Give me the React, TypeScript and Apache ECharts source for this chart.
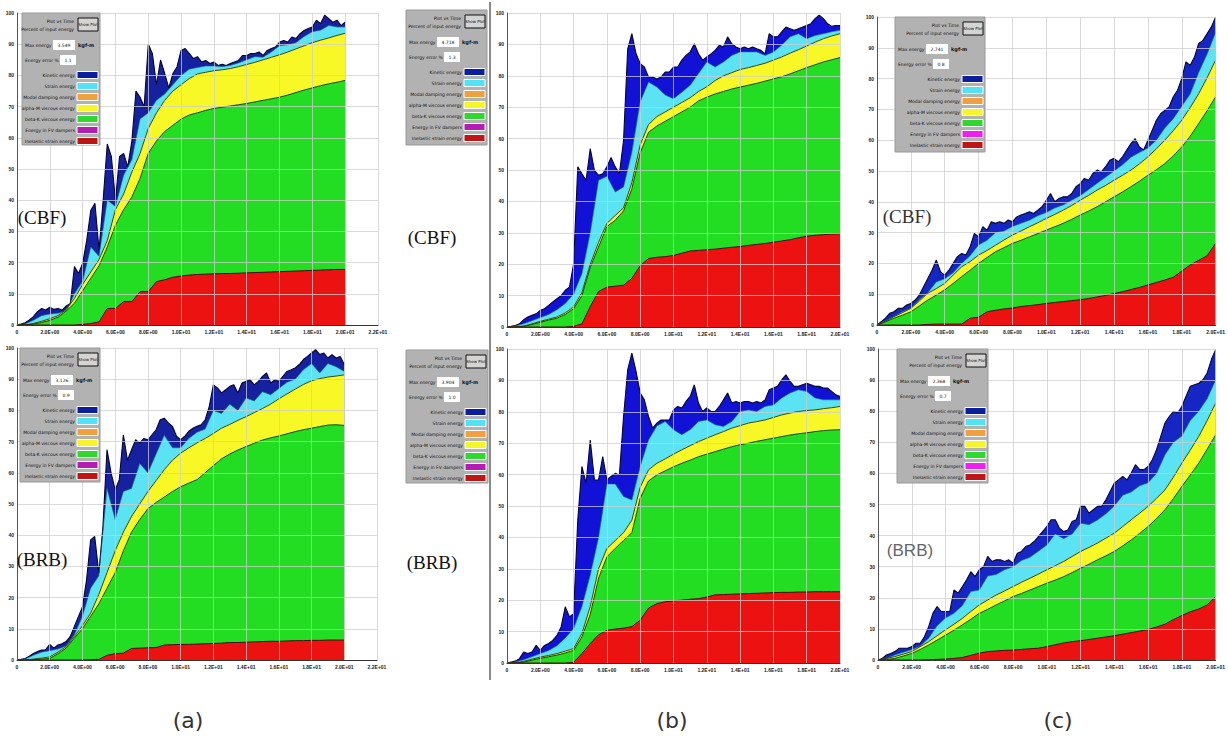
import React, { useEffect, useRef } from "react";
import * as echarts from "echarts";

// ---------- sampling times (s) ----------
const TIME_FINE = Array.from({ length: 81 }, (_, i) => i * 0.25);
const TIME_COARSE = Array.from({ length: 41 }, (_, i) => i * 0.5);

const Y_TICKS = [0, 10, 20, 30, 40, 50, 60, 70, 80, 90, 100];
const X_MAX = [22, 22, 20, 20, 20, 20];

const LEGEND_LABELS = [
  "Kinetic energy",
  "Strain energy",
  "Modal damping energy",
  "alpha-M viscous energy",
  "beta-K viscous energy",
  "Energy in FV dampers",
  "Inelastic strain energy",
];
const PANEL_TAGS = ["(CBF)", "(BRB)", "(CBF)", "(BRB)", "(CBF)", "(BRB)"];
const CAPTIONS = ["(a)", "(b)", "(c)"];
const MAX_ENERGY = ["3.549", "3.126", "4.718", "3.904", "2.741", "2.368"];
const ENERGY_ERROR = ["1.1", "0.9", "1.3", "1.0", "0.8", "0.7"];

// ---------- (a) CBF ----------
const aTopBlue = [0, 0.3, 0.7, 1.6, 2.7, 4.3, 5.3, 4.8, 5.7, 5.0, 5.3, 4.8, 6.1, 6.9, 18.7, 16.5, 19.7, 27.2, 36.8, 39, 24, 40, 58, 54, 40, 54, 55, 50.7, 59, 75, 73, 70, 90, 87, 77, 85, 80.6, 76, 80.6, 82.7, 88, 88.6, 87, 85.4, 86, 84.3, 84.8, 83.8, 84.3, 83.2, 83.6, 83.2, 83.8, 84.3, 84.8, 86.4, 86.4, 87, 87, 87.5, 86.4, 88, 88.6, 89.1, 90.7, 91.2, 90.7, 92.3, 91.8, 93.4, 94.4, 95, 95.5, 97.7, 96.6, 99.3, 98.2, 97, 97.7, 96, 97.1];
const aTopCyan = [0, 0.3, 1.5, 3, 3.5, 3.8, 4.5, 10, 14, 25, 22, 40, 38, 48, 53, 66, 68, 72, 74, 77, 80, 82, 82.5, 83, 83, 82.8, 83.2, 84, 85, 86, 85.8, 87.5, 89.5, 89.8, 90.5, 92.5, 94, 94.5, 96, 95.5, 95.5];
const aTopYellow = [0, 0, 0.5, 1.2, 2, 3, 5, 8.5, 13, 17, 21, 27, 37, 42, 49, 55, 63, 68, 72, 75, 77, 79, 80.5, 81, 81.5, 81.8, 82.2, 82.8, 83.5, 84.2, 85, 85.8, 86.6, 87.5, 88.5, 89.5, 90.5, 91.3, 92, 92.8, 93.5];
const aTopGreen = [0, 0, 0.3, 0.8, 1.5, 2.5, 4.5, 7, 11, 15, 19, 25, 32, 37, 41, 47, 55, 59, 62, 64, 66, 67.3, 68, 68.8, 69.4, 69.8, 70.2, 70.6, 71, 71.5, 72, 72.5, 73, 73.7, 74.5, 75.3, 76, 76.7, 77.3, 77.8, 78.4];
const aTopRed = [0, 0, 0, 0, 0, 0, 0, 0, 0.2, 0.5, 1, 5.3, 5.3, 7.5, 7.5, 10.7, 10.7, 13.9, 14.5, 15.3, 15.7, 16, 16.2, 16.3, 16.4, 16.5, 16.5, 16.6, 16.7, 16.8, 16.9, 17, 17.1, 17.2, 17.3, 17.4, 17.5, 17.6, 17.7, 17.8, 17.8];

// ---------- (a) BRB ----------
const aBotBlue = [0, 0.2, 0.5, 1.2, 2.1, 2.7, 3.2, 3.3, 5, 3.8, 4.8, 5.2, 5.9, 7.5, 10.7, 13.9, 17, 25.7, 38.5, 39.6, 27.8, 42.8, 67.4, 60, 54.5, 57.8, 72.2, 64, 67.4, 70.6, 69.5, 71, 70.6, 72.2, 73.8, 77, 77.5, 76, 74.9, 71.7, 70.6, 71.7, 73.3, 74.3, 74.9, 75.4, 77, 81.3, 88.2, 87.2, 85.6, 86.6, 87.7, 88.2, 85.6, 88.8, 89.3, 89.8, 88.2, 89.3, 90.9, 92, 88.8, 89.8, 89.3, 90.9, 92.5, 93, 93.6, 94.7, 96.3, 97.3, 98.4, 99.5, 97.9, 98.4, 96.8, 97.9, 96.8, 97.3, 94.7];
const aBotCyan = [0, 0.3, 1.5, 2.5, 3, 3.5, 4.5, 8, 14, 23, 27, 55, 45, 54, 55, 63, 60, 66, 72, 68, 68, 71, 73, 74, 80, 79, 82, 80, 84, 83, 86, 85, 87, 89, 90, 93, 95, 92, 95, 94, 92.5];
const aBotYellow = [0, 0, 0.3, 0.6, 1, 2.5, 4.3, 7.5, 11, 15, 21, 28, 35, 41, 46, 50, 54, 57.5, 61, 64, 66.3, 68, 69.6, 71, 72.6, 74.3, 75.5, 76.8, 78, 79.3, 80.6, 82, 83.7, 85.3, 86.8, 88.3, 89.5, 90.2, 90.7, 91, 91.4];
const aBotGreen = [0, 0, 0.1, 0.3, 0.5, 2, 3.8, 7, 10, 14, 18, 23, 28, 35, 41, 45, 48.5, 50.5, 52.2, 54, 55.5, 56.7, 57.8, 60, 62.3, 64.5, 66, 67.3, 68.4, 69.5, 70.5, 71.2, 71.8, 72.5, 73.2, 73.8, 74.3, 74.8, 75.3, 75.4, 75.2];
const aBotRed = [0, 0, 0, 0, 0, 0, 0, 0, 0, 0.1, 0.2, 1.5, 2, 2.2, 3.7, 3.8, 3.9, 4, 4.8, 4.9, 5, 5, 5.1, 5.2, 5.3, 5.4, 5.6, 5.6, 5.7, 5.8, 5.9, 6, 6, 6.1, 6.2, 6.2, 6.3, 6.3, 6.4, 6.4, 6.4];

// ---------- (b) CBF ----------
const bTopBlue = [0, 0.2, 0.5, 1, 2.3, 3.2, 3.7, 4.2, 5.3, 5.8, 6.9, 8, 9, 10, 11.7, 12.7, 20, 51, 48.8, 46.7, 56.8, 49.9, 48.3, 48.8, 51, 54, 51, 48.8, 59.4, 88.6, 93.4, 87, 83.9, 82.8, 79.6, 79.6, 79, 79.6, 81.2, 81.2, 82.8, 82.8, 85, 86.5, 87.6, 90.2, 87, 85, 86, 87, 88.1, 89.7, 89.2, 92.4, 90.2, 89.2, 88.6, 89.2, 88.6, 89.2, 88.6, 88.1, 87, 93.4, 92.4, 92.4, 94, 95.5, 95, 94.5, 95, 95.5, 96, 96.6, 98.2, 99.3, 98.2, 96.6, 95.8, 96, 96];
const bTopCyan = [0, 0.3, 1, 2, 3, 4, 5.5, 7.5, 10.5, 17, 30, 46.7, 48, 43, 44.6, 55.7, 71.7, 78, 76.4, 73.9, 72.7, 74.8, 77, 80.7, 84.4, 82.8, 84.4, 86.5, 87.6, 87.6, 87.6, 86.5, 87.6, 89.8, 92.4, 93.4, 91.8, 92.8, 93.4, 94, 94.5];
const bTopYellow = [0, 0, 0.3, 1, 1.8, 2.5, 3.2, 4.5, 6.4, 11, 20, 27, 33, 35.5, 38, 46, 58, 64.5, 67, 68.5, 70, 71.5, 73, 75, 76.5, 78.5, 80, 81, 82, 82.6, 83.3, 84, 85, 86, 87.2, 88.3, 89.5, 90.7, 91.8, 92.7, 93.4];
const bTopGreen = [0, 0, 0.2, 0.8, 1.5, 2.2, 2.8, 4, 5.8, 10, 19, 25.5, 32, 34, 37, 44, 55.5, 62, 64, 65.5, 67, 68.5, 70, 72, 73.2, 74.2, 75, 75.8, 76.4, 77, 77.6, 78.3, 79, 79.7, 80.6, 81.6, 82.6, 83.5, 84.4, 85.1, 85.8];
const bTopRed = [0, 0, 0, 0, 0, 0, 0, 0, 0.2, 1, 6.5, 11.3, 12.7, 13, 13.3, 15.5, 19.5, 21.8, 22.2, 22.4, 22.8, 23.5, 24.2, 24.4, 24.6, 24.8, 25.1, 25.4, 25.6, 26, 26.3, 26.6, 27, 27.4, 27.8, 28.4, 28.9, 29.2, 29.4, 29.6, 29.7];

// ---------- (b) BRB ----------
const bBotBlue = [0, 0.3, 0.6, 1.4, 3.5, 3, 3.5, 5.6, 4, 5.6, 6.2, 7.2, 8.8, 11.5, 17.9, 14.7, 15.7, 45.5, 62.6, 57.2, 71, 58.3, 58.3, 65.7, 58.3, 59.4, 60.4, 59.9, 78.5, 93.4, 98.7, 92.9, 86, 83.8, 78.5, 74.8, 76.4, 77.4, 77.4, 77.4, 80.6, 81.7, 81.2, 83.3, 84.9, 88.6, 82.8, 80.1, 81.2, 80.1, 80.1, 81.7, 83.8, 86, 82.8, 83.3, 82.8, 83.3, 83.3, 82.8, 83.3, 82.8, 83.8, 87, 87.6, 88.1, 90.2, 91.8, 89.7, 88.1, 88.1, 88.6, 89.1, 88.6, 88.1, 88.1, 87.6, 87.6, 86.5, 85.4, 84.9];
const bBotCyan = [0, 0.3, 1, 2, 3, 4, 5.5, 8, 11, 18, 28, 40, 57, 57, 53, 51.9, 62.6, 71, 75.5, 76.9, 74.3, 72.7, 74.3, 76.9, 77.4, 75.9, 75.3, 76.9, 80.1, 80.6, 80.1, 81.7, 82.2, 84.4, 86, 87, 86.5, 84.4, 83.8, 83.8, 83.8];
const bBotYellow = [0, 0, 0.5, 1.2, 1.9, 2.4, 3, 3.8, 4.6, 9.4, 18, 30, 36.5, 39, 41.5, 45.5, 56, 61.5, 63.6, 65, 66.5, 67.9, 69.2, 70.5, 71.6, 72.7, 73.7, 74.8, 75.6, 76.4, 76.9, 77.4, 78.2, 79, 79.6, 80.1, 80.4, 80.6, 81, 81.3, 81.7];
const bBotGreen = [0, 0, 0.3, 0.9, 1.5, 2, 2.5, 3.2, 4, 8.3, 15.5, 27, 33.8, 36.5, 39, 41.5, 52.5, 58, 59.9, 61.2, 62.5, 63.6, 64.6, 65.7, 66.5, 67.3, 68.1, 68.9, 69.5, 70, 70.6, 71.1, 71.6, 72.1, 72.6, 73, 73.3, 73.7, 74, 74.2, 74.3];
const bBotRed = [0, 0, 0, 0, 0, 0, 0, 0, 0.2, 3, 6.2, 9, 10.4, 10.8, 11.1, 11.6, 13.6, 17.5, 18.9, 19.5, 19.8, 20, 20.3, 20.5, 21, 21.7, 21.8, 21.9, 22, 22.1, 22.2, 22.3, 22.4, 22.5, 22.5, 22.6, 22.6, 22.7, 22.7, 22.7, 22.7];

// ---------- (c) CBF ----------
const cTopBlue = [0, 1.1, 2.2, 3.8, 4.3, 5.4, 5.4, 6.5, 7, 8.1, 9.7, 12.4, 15.1, 17.8, 21.1, 17.3, 16.2, 17.8, 20, 22.2, 23.2, 22.7, 25.4, 29.7, 28.6, 31.9, 30.8, 33.5, 33, 33.5, 33, 34.1, 33.5, 35.1, 35.7, 36.2, 36.8, 36.2, 37.3, 38.4, 40.5, 42.7, 40, 41.1, 41.6, 41.6, 42.7, 44.9, 45.9, 47.6, 47, 49.2, 50.3, 49.7, 51.4, 53.5, 54.1, 53, 54.6, 56.8, 58.9, 60.5, 57.8, 56.8, 60, 63.2, 66.5, 68.6, 69.7, 70.8, 74.1, 76.2, 80, 85.4, 84.3, 87, 91.4, 92.4, 94.6, 96.8, 100];
const cTopCyan = [0, 1.3, 2.8, 4.3, 5.5, 8.2, 10.5, 14, 15, 17, 20, 22.5, 26, 27.5, 30, 30.5, 32, 33, 34, 35.5, 36.5, 38, 39, 40.5, 42, 44, 46, 48, 50, 52, 54.5, 56, 57.5, 60, 64, 67, 71, 75, 82, 88, 95];
const cTopYellow = [0, 1.2, 2.7, 4, 5.4, 7.8, 10.3, 11.8, 13.5, 16.2, 18.9, 20.6, 22.7, 24.2, 25.9, 27.6, 29.2, 30.5, 31.9, 33.2, 34.6, 35.9, 37.3, 38.8, 40.5, 42.1, 43.8, 45.3, 47, 48.6, 50.3, 52.3, 54.6, 57.2, 60, 63.1, 66.5, 70.6, 75.1, 80.3, 86];
const cTopGreen = [0, 1, 2.2, 3.2, 4.3, 6.2, 8.1, 9.7, 11.4, 13.5, 15.7, 17.8, 20, 21.9, 23.8, 25.1, 26.5, 27.5, 28.6, 29.7, 30.8, 31.9, 33, 34.3, 35.7, 37, 38.4, 40, 41.6, 43.2, 44.9, 46.7, 48.6, 50.4, 52.4, 54.9, 57.8, 61.3, 65.4, 69.6, 74.1];
const cTopRed = [0, 0, 0, 0, 0, 0, 0.2, 0.3, 0.3, 0.3, 0.3, 2.2, 2.5, 4.3, 4.8, 5.2, 5.5, 6, 6.3, 6.6, 7, 7.3, 7.6, 7.9, 8.2, 8.6, 9.1, 9.6, 10.2, 10.8, 11.5, 12.2, 13, 13.8, 14.6, 15.5, 17.5, 19.5, 21, 22.5, 26.5];

// ---------- (c) BRB ----------
const cBotBlue = [0, 0.5, 1.6, 2.1, 2.7, 3.8, 3.8, 3.8, 4.3, 5.4, 5.4, 7.5, 10.7, 15, 17.2, 15.6, 15.6, 15.6, 22.5, 21.5, 23.6, 25.8, 28.4, 26.8, 29, 30, 33.3, 31.7, 32.2, 32.2, 31.7, 32.2, 31.1, 34.3, 34.9, 36.5, 37, 38.1, 39.7, 41.3, 42.9, 45.1, 45.1, 42.4, 41.3, 41.8, 44.5, 45.1, 49.4, 49.4, 47.2, 48.3, 49.4, 49.4, 51.5, 54.2, 56.9, 57.9, 59, 57.9, 60.1, 62.8, 61.2, 61.2, 62.2, 64.4, 67.6, 71.9, 76.2, 78.3, 79.9, 79.4, 81.5, 84.8, 88, 88.5, 89, 90.1, 92.3, 96.6, 99.8];
const cBotCyan = [0, 0.5, 1.6, 2.5, 3.3, 4.5, 7, 11, 13.5, 15, 17.5, 22, 22.5, 27, 27.5, 29, 30, 32, 33, 35, 37, 40.5, 39, 40.5, 44, 43.5, 45, 47, 49.5, 53, 54, 56, 57, 60, 66, 70, 72, 77, 80, 84, 90];
const cBotYellow = [0, 0.5, 1.1, 1.9, 2.7, 4.3, 5.9, 7.8, 9.7, 11.5, 13.4, 15.6, 17.7, 19.3, 20.9, 22.2, 23.6, 25, 26.3, 27.6, 29, 30.3, 31.7, 33.3, 34.9, 36.2, 37.6, 39.2, 40.8, 42.9, 45.1, 47.2, 49.4, 52, 54.7, 58.8, 63.3, 67.5, 71.9, 77, 82.6];
const cBotGreen = [0, 0.2, 0.5, 1.3, 2.1, 3.4, 4.8, 6.4, 8, 9.6, 11.3, 13.1, 15, 16.3, 17.7, 19, 20.4, 21.4, 22.5, 23.6, 24.7, 25.7, 26.8, 28.1, 29.5, 30.8, 32.2, 33.5, 34.9, 36.7, 38.6, 40.7, 42.9, 45.5, 48.3, 51.9, 55.8, 59.5, 63.3, 67.8, 72.4];
const cBotRed = [0, 0, 0, 0, 0, 0, 0.1, 0.2, 0.3, 0.5, 0.8, 1.5, 2.2, 2.7, 2.9, 3.1, 3.2, 3.4, 3.6, 3.8, 4.3, 4.9, 5.5, 5.9, 6.2, 6.6, 7, 7.4, 7.8, 8.3, 8.8, 9.3, 9.8, 10.6, 11.5, 13, 14.3, 15.5, 16.4, 17.7, 20.4];

const PANEL_DATA = [
  [aTopBlue, aTopCyan, aTopYellow, aTopGreen, aTopRed],
  [aBotBlue, aBotCyan, aBotYellow, aBotGreen, aBotRed],
  [bTopBlue, bTopCyan, bTopYellow, bTopGreen, bTopRed],
  [bBotBlue, bBotCyan, bBotYellow, bBotGreen, bBotRed],
  [cTopBlue, cTopCyan, cTopYellow, cTopGreen, cTopRed],
  [cBotBlue, cBotCyan, cBotYellow, cBotGreen, cBotRed],
];

// ---------- layout & styles ----------
const GRIDS = [
  { left: 17, top: 13, width: 361, height: 312 },
  { left: 17, top: 348, width: 360, height: 312 },
  { left: 507, top: 13, width: 333, height: 314 },
  { left: 507, top: 349, width: 333, height: 314 },
  { left: 877, top: 17, width: 341, height: 308 },
  { left: 878, top: 349, width: 340, height: 311 },
];
const BLUE_FILL = ["#16219f", "#16219f", "#1212d6", "#1212d6", "#1626c4", "#1626c4"];
const CYAN_FILL = "#5be3f3";
const YELLOW_FILL = "#f8f826";
const GREEN_FILL = "#22dd22";
const RED_FILL = "#ec1212";
const LINE_COLORS = ["#05052e", "#1d6f80", "#3a4a10", "#0e4a0e", "#4a0a0a"];
const LINE_WIDTHS = [1.1, 0.6, 1, 1, 1];

const LEGEND_BOXES = [
  [22, 13, 78, 132],
  [20, 348, 80, 134],
  [406, 10, 81, 135],
  [406, 350, 82, 133],
  [895, 17, 90, 135],
  [897, 349, 91, 134],
];
const SWATCH_COLORS = ["#0b1e9e", "#4fe3f5", "#f0a040", "#f5f52a", "#2fd82f", "#b41cb4", "#c01515"];
const TAG_POS = [
  [42, 217, "Liberation Serif", "#111"],
  [42, 559, "Liberation Serif", "#111"],
  [432, 237, "Liberation Serif", "#111"],
  [432, 562, "Liberation Serif", "#111"],
  [907, 216, "Liberation Serif", "#333"],
  [910, 550, "Liberation Sans", "#666"],
];
const CAPTION_X = [188, 672, 1058];

function sciLabel(v: number): string {
  if (v === 0) return "0";
  const e = Math.floor(Math.log10(v) + 1e-9);
  const m = v / Math.pow(10, e);
  return m.toFixed(1) + "E+" + (e < 10 ? "0" : "") + e;
}

function zip(times: number[], vals: number[]) {
  const n = Math.min(times.length, vals.length);
  const out: number[][] = [];
  for (let i = 0; i < n; i++) out.push([times[i], vals[i]]);
  return out;
}

function txt(x: number, y: number, text: string, size: number, o: any = {}) {
  const align = o.align || "left";
  return {
    type: "text",
    x,
    y,
    z: 100,
    style: {
      text,
      fontSize: size,
      fontFamily: o.family || "DejaVu Sans",
      fontWeight: o.weight || "normal",
      fill: o.fill || "#111",
      align,
      textAlign: align,
      verticalAlign: "middle",
      textVerticalAlign: "middle",
    },
  };
}

function rect(x: number, y: number, w: number, h: number, fill: string, stroke?: string, lw = 1) {
  return {
    type: "rect",
    z: 100,
    shape: { x, y, width: w, height: h },
    style: { fill, stroke: stroke || "none", lineWidth: lw },
  };
}

function legendBox(idx: number) {
  const [x0, y0, w, h] = LEGEND_BOXES[idx];
  const els: any[] = [];
  els.push(rect(x0, y0, w, h, "#b2b2b2", "#999"));
  els.push(txt(x0 + w - 26, y0 + 8, "Plot vs Time", 4.5, { align: "right" }));
  els.push(txt(x0 + w - 26, y0 + 16, "Percent of input energy", 4.5, { align: "right" }));
  els.push(rect(x0 + w - 22, y0 + 5, 20, 13, "#d4d4d4", "#111", 1));
  els.push(txt(x0 + w - 12, y0 + 11.5, "Show Plot", 4, { align: "center" }));
  els.push(txt(x0 + 3, y0 + 32, "Max energy =", 4.5));
  els.push(rect(x0 + 31, y0 + 27, 22, 10, "#ffffff"));
  els.push(txt(x0 + 42, y0 + 32, MAX_ENERGY[idx], 4.5, { align: "center" }));
  els.push(txt(x0 + 56, y0 + 32, "kgf-m", 5, { weight: "bold" }));
  els.push(txt(x0 + 3, y0 + 47, "Energy error % =", 4.5));
  els.push(rect(x0 + 38, y0 + 42, 16, 10, "#ffffff"));
  els.push(txt(x0 + 46, y0 + 47, ENERGY_ERROR[idx], 4.5, { align: "center" }));
  for (let i = 0; i < LEGEND_LABELS.length; i++) {
    const yy = y0 + 62 + 11 * i;
    els.push(txt(x0 + w - 25, yy, LEGEND_LABELS[i], 4.5, { align: "right" }));
    const col = idx >= 4 && i === 5 ? "#f01ef0" : SWATCH_COLORS[i];
    els.push(rect(x0 + w - 23, yy - 3.5, 21, 7, col, "#ffffff", 1));
  }
  return els;
}

export default function App() {
  const ref = useRef<HTMLDivElement>(null);

  useEffect(() => {
    if (!ref.current) return;
    const chart = echarts.init(ref.current, null, { renderer: "svg" });

    const xAxes = GRIDS.map((_, i) => ({
      type: "value",
      gridIndex: i,
      min: 0,
      max: X_MAX[i],
      interval: 2,
      z: 4,
      axisLine: { show: true, onZero: false, lineStyle: { color: "#333", width: 1 } },
      axisTick: { show: false },
      splitLine: { show: true, lineStyle: { color: "rgba(205,205,205,0.75)", width: 1 } },
      axisLabel: {
        fontSize: 5,
        color: "#222",
        fontWeight: "bold",
        margin: 4,
        formatter: (v: number) => sciLabel(v),
      },
    }));
    const yAxes = GRIDS.map((_, i) => ({
      type: "value",
      gridIndex: i,
      min: Y_TICKS[0],
      max: Y_TICKS[Y_TICKS.length - 1],
      interval: 10,
      z: 4,
      axisLine: { show: true, lineStyle: { color: "#555", width: 1 } },
      axisTick: { show: false },
      splitLine: { show: true, lineStyle: { color: "rgba(205,205,205,0.75)", width: 1 } },
      axisLabel: { fontSize: 5, color: "#222", fontWeight: "bold", margin: 3 },
    }));

    const series: any[] = [];
    PANEL_DATA.forEach((layers, p) => {
      const fills = [BLUE_FILL[p], CYAN_FILL, YELLOW_FILL, GREEN_FILL, RED_FILL];
      layers.forEach((vals, k) => {
        const times = k === 0 ? TIME_FINE : TIME_COARSE;
        series.push({
          type: "line",
          xAxisIndex: p,
          yAxisIndex: p,
          data: zip(times, vals),
          symbol: "none",
          silent: true,
          lineStyle: { color: LINE_COLORS[k], width: LINE_WIDTHS[k] },
          areaStyle: { color: fills[k], opacity: 1 },
          z: 2,
        });
      });
    });

    const graphics: any[] = [];
    graphics.push({
      type: "line",
      z: 100,
      shape: { x1: 490, y1: 2, x2: 490, y2: 680 },
      style: { stroke: "#8a8a8a", lineWidth: 2 },
    });
    for (let i = 0; i < 6; i++) graphics.push(...legendBox(i));
    PANEL_TAGS.forEach((t, i) => {
      const [x, y, fam, col] = TAG_POS[i] as any;
      graphics.push(txt(x, y, t, fam === "Liberation Sans" ? 17 : 19, { align: "center", family: fam, fill: col }));
    });
    CAPTIONS.forEach((c, i) => {
      graphics.push(txt(CAPTION_X[i], 720, c, 22, { align: "center", family: "DejaVu Sans", fill: "#333" }));
    });

    chart.setOption({
      animation: false,
      backgroundColor: "#ffffff",
      grid: GRIDS.map((g) => ({ ...g, containLabel: false })),
      xAxis: xAxes,
      yAxis: yAxes,
      series,
      graphic: { elements: graphics },
    });

    return () => chart.dispose();
  }, []);

  return (
    <div
      ref={ref}
      style={{ position: "fixed", left: 0, top: 0, width: 1228, height: 736, background: "#fff" }}
    />
  );
}
